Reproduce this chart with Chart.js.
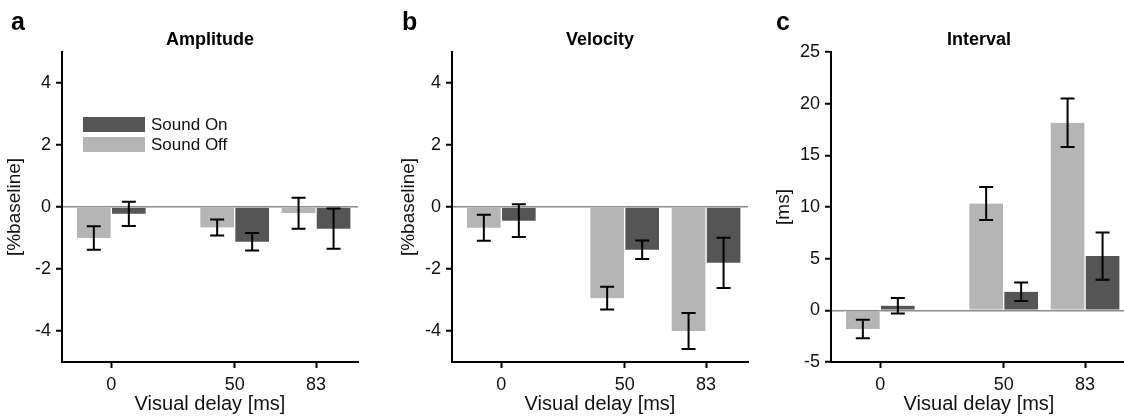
<!DOCTYPE html>
<html lang="en">
<head>
<meta charset="UTF-8">
<title>Amplitude / Velocity / Interval</title>
<script src="https://cdn.jsdelivr.net/npm/chart.js"></script>
<style>
    body { margin: 0; background: #fff; }
    #wrap { position: relative; width: 1124px; height: 419px; overflow: hidden; }
    canvas { position: absolute; top: 0; }
</style>
</head>
<body>
<div id="wrap">
    <canvas id="chartA" width="370" height="419" style="left:0px"></canvas>
    <canvas id="chartB" width="370" height="419" style="left:390px"></canvas>
    <canvas id="chartC" width="370" height="419" style="left:769px"></canvas>
</div>

<script>
    // visual delay (ms) and tick labels
    const delays = [0, 50, 83];
    const pctTicks = [-4, -2, 0, 2, 4];
    const msTicks = [-5, 0, 5, 10, 15, 20, 25];

    // Amplitude [%baseline]
    const ampOff = [-1.0, -0.66, -0.2];
    const ampOffErr = [0.38, 0.26, 0.5];
    const ampOn = [-0.22, -1.12, -0.7];
    const ampOnErr = [0.39, 0.28, 0.65];

    // Velocity [%baseline]
    const velOff = [-0.67, -2.94, -4.0];
    const velOffErr = [0.42, 0.37, 0.58];
    const velOn = [-0.44, -1.38, -1.8];
    const velOnErr = [0.53, 0.3, 0.81];

    // Interval [ms]
    const intOff = [-1.8, 10.33, 18.15];
    const intOffErr = [0.9, 1.6, 2.35];
    const intOn = [0.45, 1.8, 5.25];
    const intOnErr = [0.75, 0.9, 2.28];

    const LIGHT = '#b5b5b5';
    const DARK = '#555555';
    const FONT = '"Liberation Sans", Arial, sans-serif';

    Chart.defaults.font.family = FONT;
    Chart.defaults.color = '#111';

    // mean +/- error whiskers on top of each bar
    const errorBars = {
        id: 'errorBars',
        afterDatasetsDraw(chart) {
            const ctx = chart.ctx;
            const yScale = chart.scales.y;
            ctx.save();
            ctx.strokeStyle = '#000';
            ctx.lineWidth = 2;
            chart.data.datasets.forEach((ds, i) => {
                chart.getDatasetMeta(i).data.forEach((bar, j) => {
                    const v = ds.data[j].y;
                    const e = ds.errors[j];
                    const top = yScale.getPixelForValue(v + e);
                    const bot = yScale.getPixelForValue(v - e);
                    ctx.beginPath();
                    ctx.moveTo(bar.x, top);
                    ctx.lineTo(bar.x, bot);
                    ctx.moveTo(bar.x - 7, top);
                    ctx.lineTo(bar.x + 7, top);
                    ctx.moveTo(bar.x - 7, bot);
                    ctx.lineTo(bar.x + 7, bot);
                    ctx.stroke();
                });
            });
            ctx.restore();
        }
    };

    // panel letter + bold title over the plot
    const panelText = {
        id: 'panelText',
        afterDraw(chart, args, opts) {
            const ctx = chart.ctx;
            const area = chart.chartArea;
            ctx.save();
            ctx.fillStyle = '#000';
            ctx.textBaseline = 'alphabetic';
            ctx.font = 'bold 25px ' + FONT;
            ctx.textAlign = 'left';
            ctx.fillText(opts.letter, opts.letterX, 30);
            ctx.font = 'bold 18px ' + FONT;
            ctx.textAlign = 'center';
            ctx.fillText(opts.title, (area.left + area.right) / 2, 45);
            ctx.restore();
        }
    };

    // legend box inside the first panel (Sound On listed first)
    const innerLegend = {
        id: 'innerLegend',
        afterDraw(chart, args, opts) {
            if (!opts.show) return;
            const ctx = chart.ctx;
            const area = chart.chartArea;
            const items = chart.data.datasets.slice().reverse();
            ctx.save();
            ctx.font = '17px ' + FONT;
            ctx.textBaseline = 'middle';
            ctx.textAlign = 'left';
            items.forEach((ds, i) => {
                const x = area.left + 21;
                const y = area.top + 65 + i * 20;
                ctx.fillStyle = ds.backgroundColor;
                ctx.fillRect(x, y, 62, 15);
                ctx.fillStyle = '#111';
                ctx.fillText(ds.label, x + 68, y + 8);
            });
            ctx.restore();
        }
    };

    function makePanel(id, cfg) {
        const toPoints = vals => vals.map((v, i) => ({ x: delays[i], y: v }));
        const barStyle = {
            barThickness: 35,
            borderColor: '#fff',
            borderWidth: { left: 1, right: 1, top: 0, bottom: 0 }
        };
        return new Chart(document.getElementById(id), {
            type: 'bar',
            data: {
                datasets: [
                    Object.assign({ label: 'Sound Off', data: toPoints(cfg.off), errors: cfg.offErr, backgroundColor: LIGHT }, barStyle),
                    Object.assign({ label: 'Sound On', data: toPoints(cfg.on), errors: cfg.onErr, backgroundColor: DARK }, barStyle)
                ]
            },
            options: {
                responsive: false,
                animation: false,
                layout: { padding: { top: 52, right: 12, left: 0, bottom: 0 } },
                plugins: {
                    legend: { display: false },
                    tooltip: { enabled: false },
                    panelText: { letter: cfg.letter, letterX: cfg.letterX, title: cfg.title },
                    innerLegend: { show: !!cfg.legend }
                },
                scales: {
                    x: {
                        type: 'linear',
                        min: -20,
                        max: 100,
                        offset: false,
                        afterBuildTicks: s => { s.ticks = delays.map(v => ({ value: v })); },
                        afterFit: s => { s.height = 57; },
                        grid: { offset: false, drawOnChartArea: false, tickLength: 6, tickColor: '#000', tickWidth: 2 },
                        border: { color: '#000', width: 2 },
                        ticks: { font: { size: 18 }, padding: 6, maxRotation: 0 },
                        title: { display: true, text: 'Visual delay [ms]', font: { size: 20 }, padding: { top: 2, bottom: 3 } }
                    },
                    y: {
                        min: cfg.yMin,
                        max: cfg.yMax,
                        afterBuildTicks: s => { s.ticks = cfg.yTicks.map(v => ({ value: v })); },
                        afterFit: s => { s.width = 62; },
                        grid: {
                            color: c => (c.tick && c.tick.value === 0 ? '#8a8a8a' : 'rgba(0,0,0,0)'),
                            lineWidth: 1.5,
                            tickColor: '#000',
                            tickLength: 6,
                            tickWidth: 2
                        },
                        border: { color: '#000', width: 2 },
                        ticks: { font: { size: 18 }, padding: 5 },
                        title: { display: true, text: cfg.yTitle, font: { size: 19 }, padding: { top: cfg.yTitlePad, bottom: 0 } }
                    }
                }
            },
            plugins: [errorBars, panelText, innerLegend]
        });
    }

    makePanel('chartA', {
        letter: 'a', letterX: 11, title: 'Amplitude', legend: true,
        off: ampOff, offErr: ampOffErr, on: ampOn, onErr: ampOnErr,
        yMin: -5, yMax: 5, yTicks: pctTicks, yTitle: '[%baseline]', yTitlePad: 3
    });

    makePanel('chartB', {
        letter: 'b', letterX: 12, title: 'Velocity',
        off: velOff, offErr: velOffErr, on: velOn, onErr: velOnErr,
        yMin: -5, yMax: 5, yTicks: pctTicks, yTitle: '[%baseline]', yTitlePad: 7
    });

    makePanel('chartC', {
        letter: 'c', letterX: 7, title: 'Interval',
        off: intOff, offErr: intOffErr, on: intOn, onErr: intOnErr,
        yMin: -5, yMax: 25, yTicks: msTicks, yTitle: '[ms]', yTitlePad: 3
    });
</script>
</body>
</html>
